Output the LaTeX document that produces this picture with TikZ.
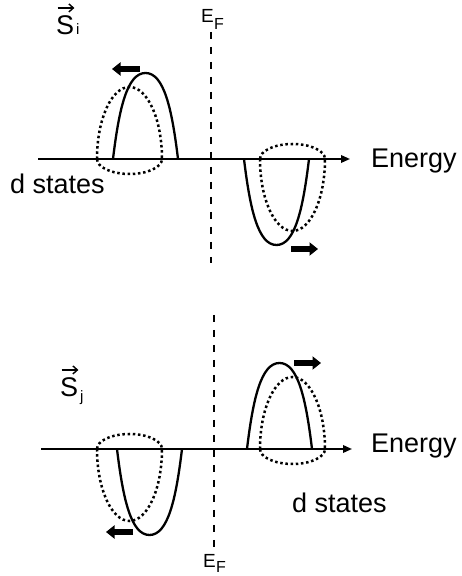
\documentclass[tikz,border=0pt]{standalone}
\usepackage{fontspec}
\setmainfont{Liberation Sans}
\usetikzlibrary{arrows.meta,calc}
\tikzset{
  axisline/.style={line width=1.8pt,-{Triangle[length=9pt,width=7.5pt]}},
  efline/.style={line width=2.5pt,dash pattern=on 7.5pt off 7.5pt},
  solidline/.style={line width=2.3pt,line join=round},
  dotline/.style={line width=2.5pt,dash pattern=on 2.5pt off 2.7pt},
  spinarrow/.style={line width=6.5pt,-{Triangle[length=8.5pt,width=13pt]}},
  vecarrow/.style={line width=1.4pt,-{Straight Barb[length=4.5pt,width=8pt]}},
  lbl/.style={inner sep=0pt,anchor=base west,font=\fontsize{27}{30}\selectfont},
  slbl/.style={inner sep=0pt,anchor=base west,font=\fontsize{27}{30}\selectfont},
  sublbl/.style={inner sep=0pt,anchor=base west,font=\fontsize{15}{16}\selectfont},
  elbl/.style={inner sep=0pt,anchor=base west,font=\fontsize{19}{20}\selectfont},
  flbl/.style={inner sep=0pt,anchor=base west,font=\fontsize{16}{16}\selectfont},
  solidlobe/.pic={\draw[solidline] (0,0) .. controls (6,50) and (14,86) .. (32.5,86)
      .. controls (51,86) and (59,50) .. (65,0);},
  dotlobe/.pic={\draw[dotline] (0,0) arc[start angle=180,end angle=0,x radius=32.5pt,y radius=72pt]
      arc[start angle=0,end angle=-180,x radius=32.5pt,y radius=15pt] -- cycle;}
}
\begin{document}
\begin{tikzpicture}[x=1pt,y=1pt]
\useasboundingbox (0,0) rectangle (462,576);

% ---------- top panel ----------
\coordinate (ta0) at (38,417);
\coordinate (ta1) at (350,417);
\draw[axisline] (ta0) -- (ta1);
\coordinate (tef0) at (211,544);
\coordinate (tef1) at (211,313);
\draw[efline] (tef0) -- (tef1);

\pic at (113,417) {solidlobe};
\pic at (97,417) {dotlobe};
\pic[yscale=-1] at (244,417) {solidlobe};
\pic[yscale=-1] at (260,417) {dotlobe};

\coordinate (tsa0) at (140,507);
\coordinate (tsa1) at (112,507);
\draw[spinarrow] (tsa0) -- (tsa1);
\coordinate (tsb0) at (291,327);
\coordinate (tsb1) at (318,327);
\draw[spinarrow] (tsb0) -- (tsb1);

\node[lbl] (tenergy) at (371,408) {Energy};
\node[lbl] (tdstates) at (10,382) {d states};
\node[slbl] (Si) at (56,541) {S};
\node[sublbl] (Sisub) at (76,541) {i};
\draw[vecarrow] ($(Si.north west)+(1.5,8)$) -- ($(Si.north east)+(0,8)$);
\node[elbl] (tE) at (201,553) {E};
\node[flbl] (tF) at (214,546) {F};

% ---------- bottom panel ----------
\coordinate (ba0) at (41,127);
\coordinate (ba1) at (352,127);
\draw[axisline] (ba0) -- (ba1);
\coordinate (bef0) at (214,261);
\coordinate (bef1) at (214,29);
\draw[efline] (bef0) -- (bef1);

\pic[yscale=-1] at (117,127) {solidlobe};
\pic[yscale=-1] at (97,127) {dotlobe};
\pic at (247,127) {solidlobe};
\pic at (260,127) {dotlobe};

\coordinate (bsa0) at (133,44);
\coordinate (bsa1) at (106,44);
\draw[spinarrow] (bsa0) -- (bsa1);
\coordinate (bsb0) at (294,213);
\coordinate (bsb1) at (321,213);
\draw[spinarrow] (bsb0) -- (bsb1);

\node[lbl] (benergy) at (371,123) {Energy};
\node[lbl] (bdstates) at (292,63) {d states};
\node[slbl] (Sj) at (60,179) {S};
\node[sublbl] (Sjsub) at (80,174) {j};
\draw[vecarrow] ($(Sj.north west)+(1.5,8)$) -- ($(Sj.north east)+(0,8)$);
\node[elbl] (bE) at (203,9) {E};
\node[flbl] (bF) at (216,3) {F};
\end{tikzpicture}
\end{document}
